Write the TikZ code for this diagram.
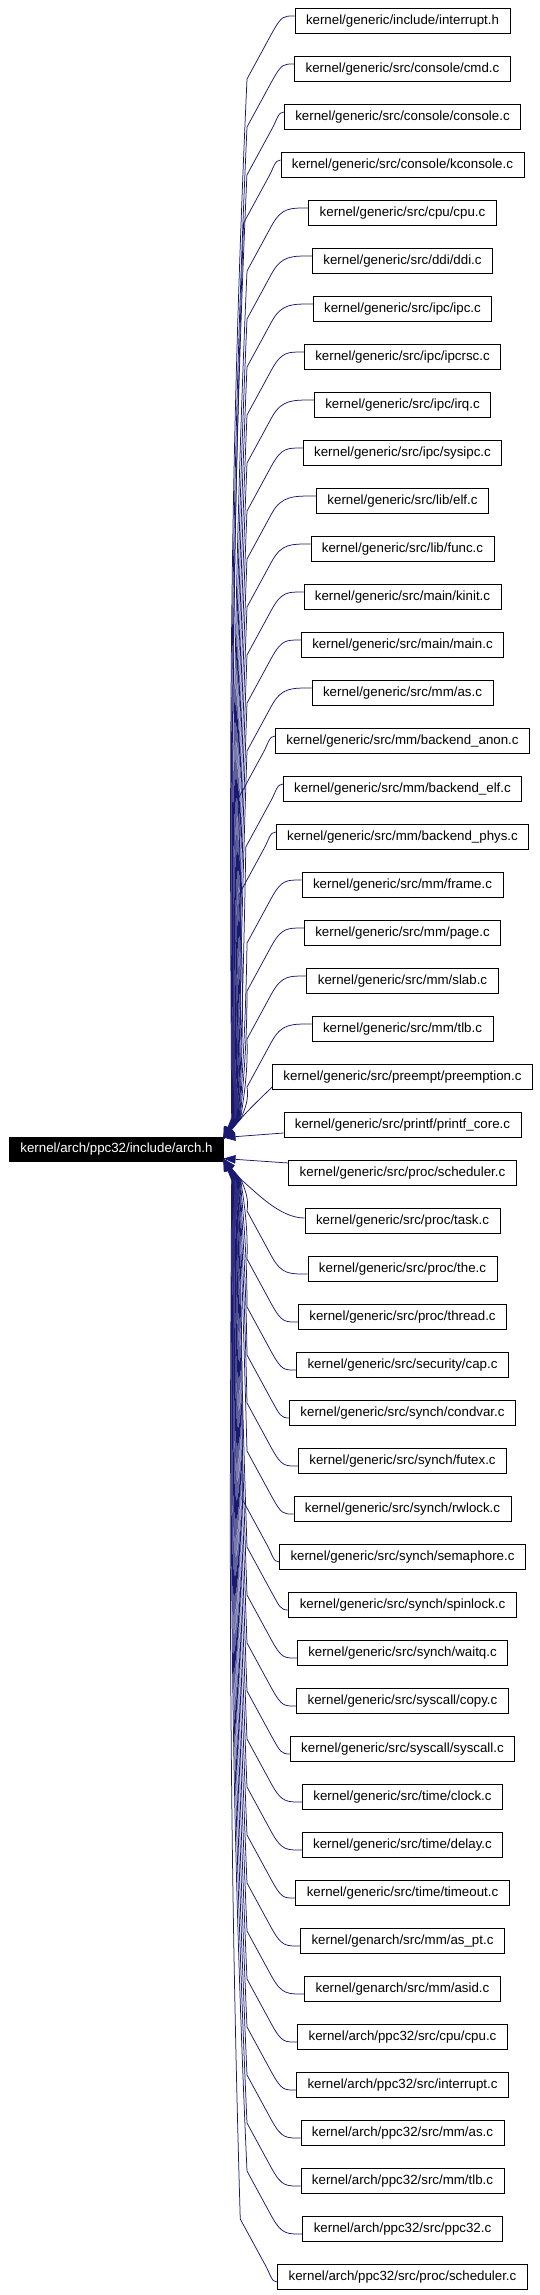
\documentclass[tikz,border=0pt]{standalone}
\usepackage{fontspec}
\setmainfont{Liberation Sans}
\usetikzlibrary{arrows.meta}
\definecolor{edgeblue}{RGB}{25,25,112}
\newcommand\nd[2]{\node[box] (n#1) at (402.5,{21+48*(#1-1)}) {#2};}
\newcommand\getxl[1]{\path (#1.west); \pgfgetlastxy{\xa}{\ya}\pgfmathsetmacro\xl{\xa}}
\begin{document}
\begin{tikzpicture}[x=1pt,y=-1pt,
 box/.style={draw=black,line width=0.8pt,fill=white,minimum height=25pt,inner xsep=11pt,inner ysep=0pt,font=\fontsize{13.3pt}{15pt}\selectfont},
 rootbox/.style={box,fill=black,text=white,minimum height=24pt,inner xsep=10.5pt},
 edge/.style={draw=edgeblue,line width=0.75pt,-{Triangle[length=12pt,width=8.5pt]}}]
\useasboundingbox (0,0) rectangle (540,2295);
\node[rootbox] (root) at (116.5,1149) {kernel/arch/ppc32/include/arch.h};
\coordinate (tu) at (223.5,1139);
\coordinate (tm) at (223.5,1137.5);
\coordinate (tn) at (223.5,1158.5);
\coordinate (tl) at (223.5,1159);
\nd{1}{kernel/generic/include/interrupt.h}
\nd{2}{kernel/generic/src/console/cmd.c}
\nd{3}{kernel/generic/src/console/console.c}
\nd{4}{kernel/generic/src/console/kconsole.c}
\nd{5}{kernel/generic/src/cpu/cpu.c}
\nd{6}{kernel/generic/src/ddi/ddi.c}
\nd{7}{kernel/generic/src/ipc/ipc.c}
\nd{8}{kernel/generic/src/ipc/ipcrsc.c}
\nd{9}{kernel/generic/src/ipc/irq.c}
\nd{10}{kernel/generic/src/ipc/sysipc.c}
\nd{11}{kernel/generic/src/lib/elf.c}
\nd{12}{kernel/generic/src/lib/func.c}
\nd{13}{kernel/generic/src/main/kinit.c}
\nd{14}{kernel/generic/src/main/main.c}
\nd{15}{kernel/generic/src/mm/as.c}
\nd{16}{kernel/generic/src/mm/backend\_anon.c}
\nd{17}{kernel/generic/src/mm/backend\_elf.c}
\nd{18}{kernel/generic/src/mm/backend\_phys.c}
\nd{19}{kernel/generic/src/mm/frame.c}
\nd{20}{kernel/generic/src/mm/page.c}
\nd{21}{kernel/generic/src/mm/slab.c}
\nd{22}{kernel/generic/src/mm/tlb.c}
\nd{23}{kernel/generic/src/preempt/preemption.c}
\nd{24}{kernel/generic/src/printf/printf\_core.c}
\nd{25}{kernel/generic/src/proc/scheduler.c}
\nd{26}{kernel/generic/src/proc/task.c}
\nd{27}{kernel/generic/src/proc/the.c}
\nd{28}{kernel/generic/src/proc/thread.c}
\nd{29}{kernel/generic/src/security/cap.c}
\nd{30}{kernel/generic/src/synch/condvar.c}
\nd{31}{kernel/generic/src/synch/futex.c}
\nd{32}{kernel/generic/src/synch/rwlock.c}
\nd{33}{kernel/generic/src/synch/semaphore.c}
\nd{34}{kernel/generic/src/synch/spinlock.c}
\nd{35}{kernel/generic/src/synch/waitq.c}
\nd{36}{kernel/generic/src/syscall/copy.c}
\nd{37}{kernel/generic/src/syscall/syscall.c}
\nd{38}{kernel/generic/src/time/clock.c}
\nd{39}{kernel/generic/src/time/delay.c}
\nd{40}{kernel/generic/src/time/timeout.c}
\nd{41}{kernel/genarch/src/mm/as\_pt.c}
\nd{42}{kernel/genarch/src/mm/asid.c}
\nd{43}{kernel/arch/ppc32/src/cpu/cpu.c}
\nd{44}{kernel/arch/ppc32/src/interrupt.c}
\nd{45}{kernel/arch/ppc32/src/mm/as.c}
\nd{46}{kernel/arch/ppc32/src/mm/tlb.c}
\nd{47}{kernel/arch/ppc32/src/ppc32.c}
\nd{48}{kernel/arch/ppc32/src/proc/scheduler.c}
% upper generic edges
\foreach \i in {1,...,22}{
 \pgfmathsetmacro\kk{24-\i}
 \pgfmathsetmacro\yy{21+48*(\i-1)}
 \getxl{n\i}
 \pgfmathsetmacro\bx{min(272,\xl-12)}
 \pgfmathsetmacro\dd{min(\xl-\bx,22)*0.45}
 \pgfmathsetmacro\vx{251-\kk}
 \pgfmathsetmacro\px{242-0.45*\kk}
 \pgfmathsetmacro\cy{\yy+58}
 \pgfmathsetmacro\len{1118-\cy}
 \draw[edge] (\xl,\yy-5) .. controls ({\xl-0.5*(\xl-\bx)},\yy-5) and ({\bx+\dd},{\yy+12-\dd*1.78}) .. (\bx,\yy+12)
   -- (\bx-25,\cy)
   .. controls (\vx,{\cy+0.4*\len}) and ({(\vx+\px)/2},{1118-0.3*\len}) .. (\px,1118)
   -- (tu);
}
% lower generic edges
\foreach \i in {27,...,48}{
 \pgfmathsetmacro\kk{\i-25}
 \pgfmathsetmacro\yy{21+48*(\i-1)}
 \getxl{n\i}
 \pgfmathsetmacro\bx{min(272,\xl-12)}
 \pgfmathsetmacro\dd{min(\xl-\bx,22)*0.45}
 \pgfmathsetmacro\vx{251-\kk}
 \pgfmathsetmacro\px{242-0.45*\kk}
 \pgfmathsetmacro\cy{\yy-58}
 \pgfmathsetmacro\len{\cy-1180}
 \draw[edge] (\xl,\yy+5) .. controls ({\xl-0.5*(\xl-\bx)},\yy+5) and ({\bx+\dd},{\yy-12+\dd*1.78}) .. (\bx,\yy-12)
   -- (\bx-25,\cy)
   .. controls (\vx,{\cy-0.4*\len}) and ({(\vx+\px)/2},{1180+0.3*\len}) .. (\px,1180)
   -- (tl);
}
% near edges
\getxl{n23}
\draw[edge] (\xl,1087) .. controls (\xl-9,1096) and (250,1108) .. (241.5,1118) -- (tu);
\getxl{n24}
\draw[edge] (\xl,1133) -- (tm);
\getxl{n25}
\draw[edge] (\xl,1163) -- (tn);
\getxl{n26}
\draw[edge] (\xl,1218) .. controls (\xl-25,1218) and (256,1192) .. (241.5,1180) -- (tl);
\end{tikzpicture}
\end{document}
